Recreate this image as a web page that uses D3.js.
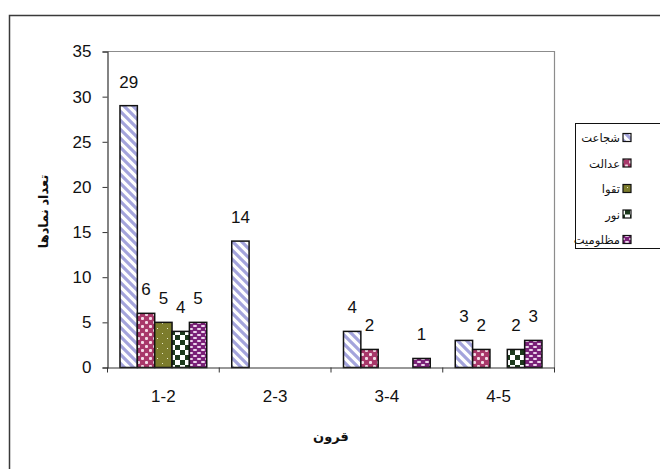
<!DOCTYPE html>
<html>
<head>
<meta charset="utf-8">
<script src="https://cdn.jsdelivr.net/npm/d3@7"></script>
<style>
  html, body { margin: 0; padding: 0; background: #fff; }
  svg { display: block; font-family: "Liberation Sans", Arial, "DejaVu Sans", sans-serif; }
</style>
</head>
<body>
<div id="chart"></div>
<script>
(function () {
  "use strict";

  // ── Data ──────────────────────────────────────────
  const categories = ["1-2", "2-3", "3-4", "4-5"];
  const seriesNames = ["شجاعت", "عدالت", "تقوا", "نور", "مظلومیت"];
  const shojaat = [29, 14, 4, 3];
  const edalat = [6, 0, 2, 2];
  const taghva = [5, 0, 0, 0];
  const noor = [4, 0, 0, 2];
  const mazloomiat = [5, 0, 1, 3];
  const yTicks = [0, 5, 10, 15, 20, 25, 30, 35];
  const seriesValues = [shojaat, edalat, taghva, noor, mazloomiat];

  // ── Layout ────────────────────────────────────────
  const width = 660, height = 469;
  const plot = { left: 107.5, right: 554.5, top: 51.5, bottom: 367.5 };
  const NUM_FONT = 17;

  const svg = d3.select("#chart").append("svg")
    .attr("width", width)
    .attr("height", height);

  // ── Patterns ──────────────────────────────────────
  const defs = svg.append("defs");

  function pattern(id, w, h) {
    return defs.append("pattern")
      .attr("id", id)
      .attr("patternUnits", "userSpaceOnUse")
      .attr("width", w)
      .attr("height", h);
  }

  // wide downward diagonal, lavender on white
  const p0 = pattern("pat0", 9, 9);
  p0.append("rect").attr("width", 9).attr("height", 9).attr("fill", "#fff");
  p0.append("path")
    .attr("d", "M-2,-2 L11,11 M-2,7 L2,11 M7,-2 L11,2")
    .attr("stroke", "#a4a4dc").attr("stroke-width", 3.2);

  // pink with white confetti
  const p1 = pattern("pat1", 8, 8);
  p1.append("rect").attr("width", 8).attr("height", 8).attr("fill", "#a8386a");
  p1.append("rect").attr("x", 1).attr("y", 1).attr("width", 3).attr("height", 3).attr("rx", 1).attr("fill", "#f4dce6");
  p1.append("rect").attr("x", 5).attr("y", 5).attr("width", 3).attr("height", 3).attr("rx", 1).attr("fill", "#f4dce6");

  // olive with small dots
  const p2 = pattern("pat2", 10, 10);
  p2.append("rect").attr("width", 10).attr("height", 10).attr("fill", "#7c7c2c");
  p2.append("rect").attr("x", 2).attr("y", 3).attr("width", 1).attr("height", 1).attr("fill", "#e8e8c8");
  p2.append("rect").attr("x", 7).attr("y", 8).attr("width", 1).attr("height", 1).attr("fill", "#e8e8c8");

  // dark green checkerboard
  const p3 = pattern("pat3", 10, 10);
  p3.append("rect").attr("width", 10).attr("height", 10).attr("fill", "#fff");
  p3.append("rect").attr("width", 5).attr("height", 5).attr("fill", "#1d3a1d");
  p3.append("rect").attr("x", 5).attr("y", 5).attr("width", 5).attr("height", 5).attr("fill", "#1d3a1d");

  // purple with white dashes
  const p4 = pattern("pat4", 8, 6);
  p4.append("rect").attr("width", 8).attr("height", 6).attr("fill", "#7a2178");
  p4.append("rect").attr("x", 1).attr("y", 1).attr("width", 4).attr("height", 2).attr("rx", 1).attr("fill", "#ecd6ec");
  p4.append("rect").attr("x", 5).attr("y", 4).attr("width", 4).attr("height", 2).attr("rx", 1).attr("fill", "#ecd6ec");
  p4.append("rect").attr("x", -3).attr("y", 4).attr("width", 4).attr("height", 2).attr("rx", 1).attr("fill", "#ecd6ec");

  const fills = seriesNames.map((_, i) => `url(#pat${i})`);

  // ── Outer frame ───────────────────────────────────
  svg.append("rect")
    .attr("x", 9.5).attr("y", 15.5)
    .attr("width", 700).attr("height", 500)
    .attr("fill", "none")
    .attr("stroke", "#3a3a3a")
    .attr("stroke-width", 1.5);

  // ── Scales ────────────────────────────────────────
  const x0 = d3.scaleBand().domain(categories).range([plot.left, plot.right]);
  const x1 = d3.scaleBand().domain(d3.range(seriesNames.length))
    .range([0, x0.bandwidth()])
    .paddingInner(0)
    .paddingOuter(0.72);
  const y = d3.scaleLinear().domain([0, 35]).range([plot.bottom, plot.top]);

  // plot area border (top / right)
  svg.append("path")
    .attr("d", `M${plot.left},${plot.top} H${plot.right} V${plot.bottom}`)
    .attr("fill", "none")
    .attr("stroke", "#8c8c8c")
    .attr("stroke-width", 1.2);

  // ── Bars ──────────────────────────────────────────
  const barData = [];
  categories.forEach((c, ci) => {
    seriesValues.forEach((vals, si) => {
      if (vals[ci] > 0) barData.push({ cat: c, s: si, value: vals[ci] });
    });
  });

  const gBars = svg.append("g");
  gBars.selectAll("rect")
    .data(barData)
    .join("rect")
    .attr("x", d => x0(d.cat) + x1(d.s))
    .attr("y", d => y(d.value))
    .attr("width", x1.bandwidth())
    .attr("height", d => y(0) - y(d.value))
    .attr("fill", d => fills[d.s])
    .attr("stroke", "#111")
    .attr("stroke-width", 1.5);

  gBars.selectAll("text")
    .data(barData)
    .join("text")
    .attr("x", d => x0(d.cat) + x1(d.s) + x1.bandwidth() / 2)
    .attr("y", d => y(d.value) - 18)
    .attr("text-anchor", "middle")
    .attr("font-size", NUM_FONT)
    .attr("fill", "#111")
    .text(d => d.value);

  // ── Axes ──────────────────────────────────────────
  const yAxis = d3.axisLeft(y).tickValues(yTicks).tickSize(5).tickPadding(11);
  const gy = svg.append("g").attr("transform", `translate(${plot.left},0)`).call(yAxis);
  gy.select(".domain").attr("stroke", "#333").attr("stroke-width", 1.2);
  gy.selectAll(".tick line").attr("stroke", "#333");
  gy.selectAll(".tick text")
    .attr("font-size", NUM_FONT)
    .attr("font-family", "Liberation Sans, Arial, sans-serif")
    .attr("fill", "#111");

  const xAxis = d3.axisBottom(x0).tickSize(0).tickPadding(22);
  const gx = svg.append("g").attr("transform", `translate(0,${plot.bottom})`).call(xAxis);
  gx.select(".domain").attr("stroke", "#333").attr("stroke-width", 1.2);
  gx.selectAll(".tick text")
    .attr("font-size", NUM_FONT)
    .attr("font-family", "Liberation Sans, Arial, sans-serif")
    .attr("fill", "#111");

  // category boundary ticks
  const bounds = categories.map(c => x0(c)).concat([plot.right]);
  svg.append("g").selectAll("line")
    .data(bounds)
    .join("line")
    .attr("x1", d => d).attr("x2", d => d)
    .attr("y1", plot.bottom).attr("y2", plot.bottom + 5)
    .attr("stroke", "#333");

  // ── Axis titles ───────────────────────────────────
  svg.append("text")
    .attr("x", (plot.left + plot.right) / 2)
    .attr("y", 441)
    .attr("text-anchor", "middle")
    .attr("font-size", 13)
    .attr("font-weight", "bold")
    .attr("fill", "#111")
    .text("قرون");

  svg.append("text")
    .attr("transform", `translate(48,${(plot.top + plot.bottom) / 2 + 2}) rotate(-90)`)
    .attr("text-anchor", "middle")
    .attr("font-size", 13)
    .attr("font-weight", "bold")
    .attr("fill", "#111")
    .text("تعداد نمادها");

  // ── Legend ────────────────────────────────────────
  svg.append("rect")
    .attr("x", 575.5).attr("y", 123.5)
    .attr("width", 120).attr("height", 125)
    .attr("fill", "#fff")
    .attr("stroke", "#111")
    .attr("stroke-width", 1);

  const legend = svg.append("g").selectAll("g")
    .data(seriesNames)
    .join("g")
    .attr("transform", (d, i) => `translate(0,${138 + i * 25.5})`);

  legend.append("rect")
    .attr("x", 623).attr("y", -4.5)
    .attr("width", 8).attr("height", 8)
    .attr("fill", (d, i) => fills[i])
    .attr("stroke", "#111")
    .attr("stroke-width", 1.2);

  legend.append("text")
    .attr("x", 620)
    .attr("y", 0)
    .attr("dy", "0.35em")
    .attr("text-anchor", "end")
    .attr("font-size", 11.5)
    .attr("fill", "#111")
    .text(d => d);
})();
</script>
</body>
</html>
